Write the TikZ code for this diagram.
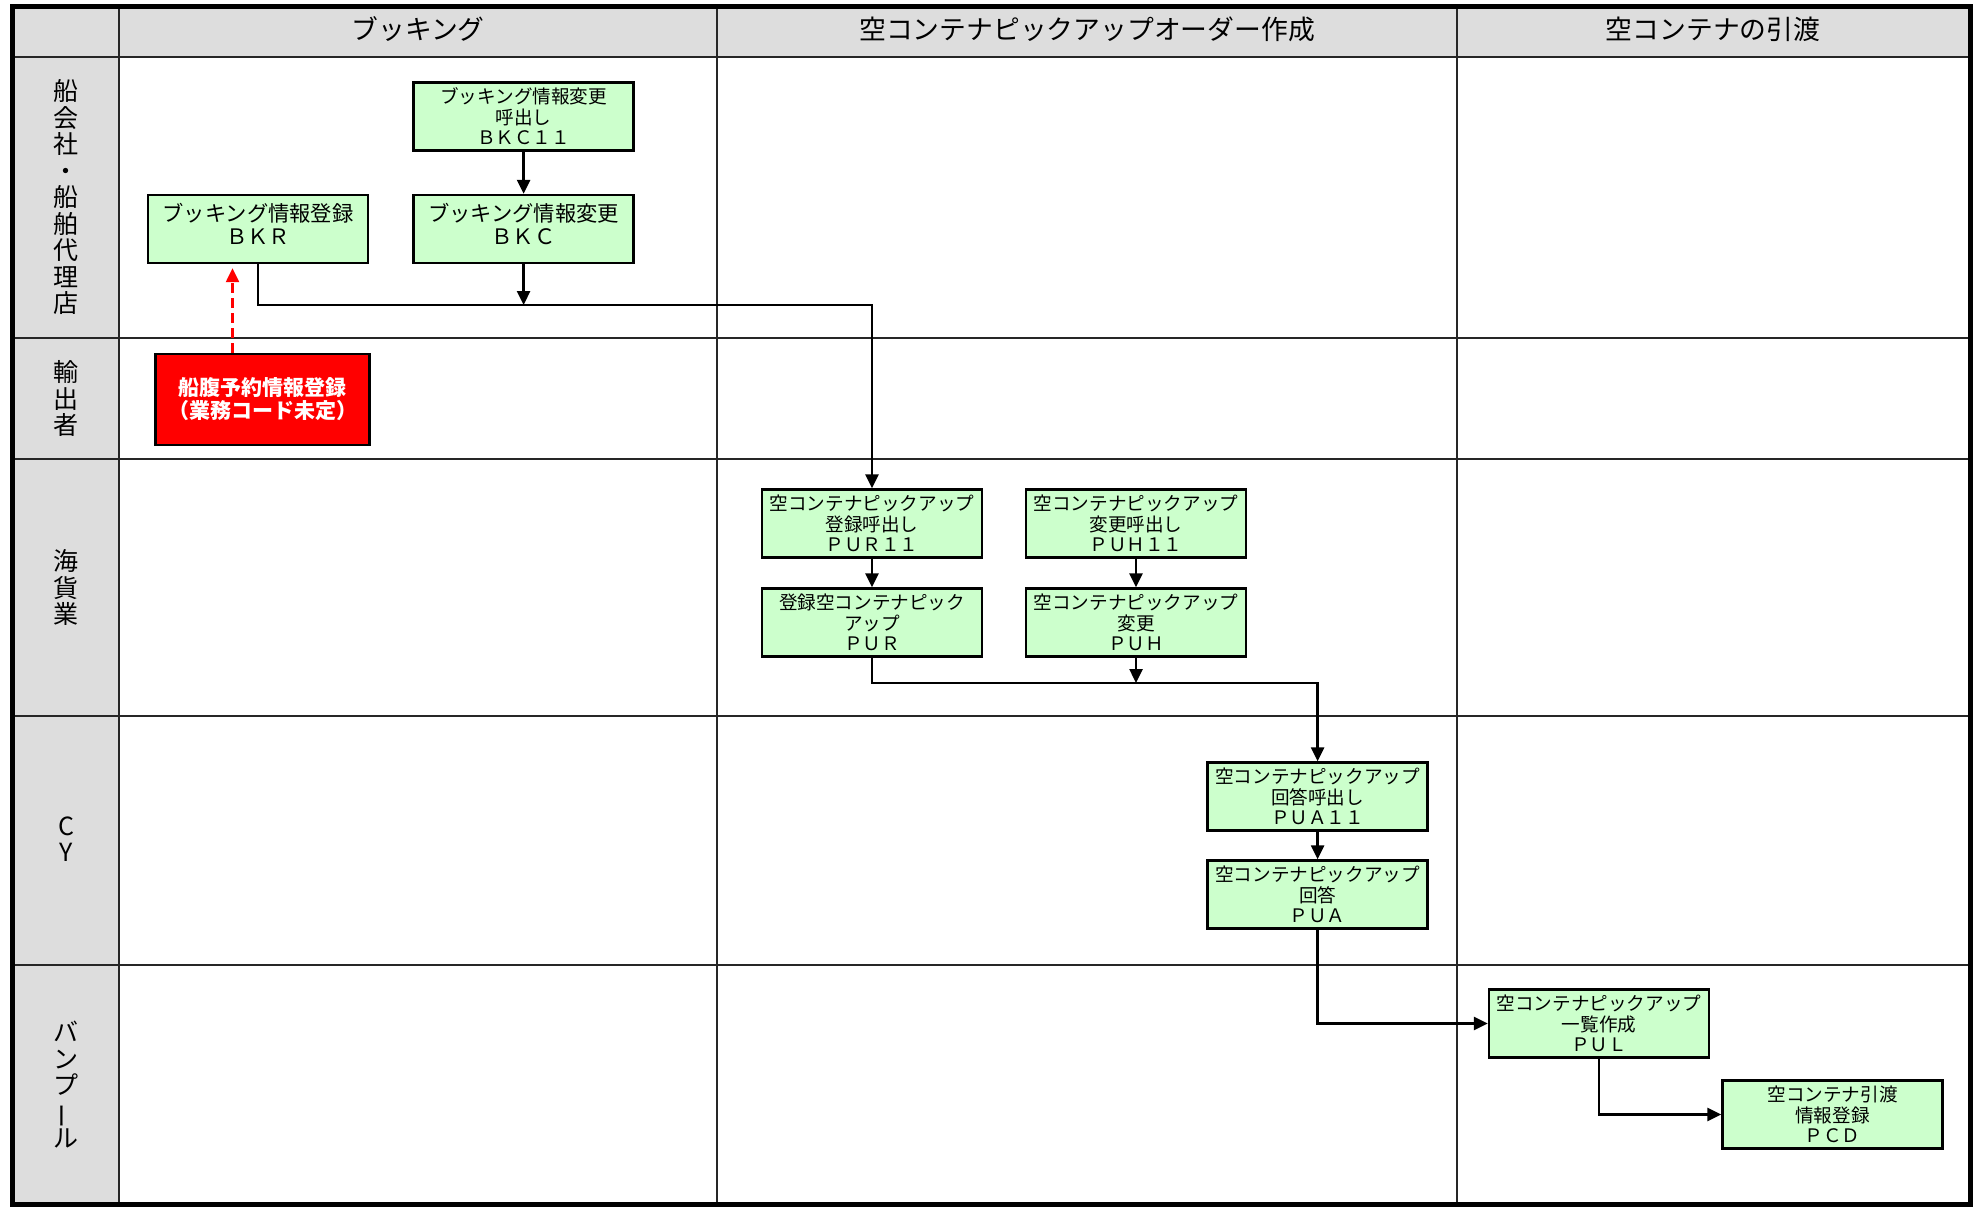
\documentclass[tikz,border=0pt]{standalone}
\usepackage{fontspec}
\usepackage{graphicx}
\setmainfont{Noto Sans CJK JP}
\usetikzlibrary{arrows.meta}
\definecolor{boxgreen}{HTML}{CCFFCC}
\definecolor{lanegray}{HTML}{DDDDDD}
\definecolor{alertred}{HTML}{FF0000}
\newcommand{\lowpad}{\rule[-10pt]{0pt}{10pt}}
\begin{document}
\begin{tikzpicture}[x=1pt,y=-1pt,
  gridline/.style={line width=2.8pt, draw=black!85},
  frame/.style={line width=5pt, draw=black},
  hdr/.style={font=\fontsize{26.8}{28}\selectfont, anchor=center},
  lanelabel/.style={font=\fontsize{25}{26.5}\selectfont, align=center, anchor=center, inner sep=0pt},
  proc/.style={draw=black, line width=2.4pt, fill=boxgreen, minimum width=220pt, minimum height=68pt, align=center, inner sep=0pt},
  three/.style={font=\fontsize{18.6}{20.5}\selectfont},
  two/.style={font=\fontsize{21.3}{23}\selectfont},
  alertbox/.style={draw=black, line width=2.6pt, fill=alertred, text=white, minimum width=214pt, minimum height=91pt, align=center, inner sep=0pt, font=\bfseries\fontsize{21}{23}\selectfont},
  flow/.style={line width=2.5pt, draw=black, -{Triangle[length=14pt,width=13pt]}},
  reddash/.style={line width=2.4pt, draw=alertred, dash pattern=on 10pt off 5pt, -{Triangle[length=14pt,width=13pt]}}]
\useasboundingbox (0,0) rectangle (1983,1208);
% backgrounds
\fill[white] (12.6,6) rectangle (1970,1204);
\fill[lanegray] (12.6,6) rectangle (1970,57);
\fill[lanegray] (12.6,57) rectangle (119,1204);
% grid
\foreach \yy in {57,338,459,716,965} \draw[gridline] (12.6,\yy) -- (1970,\yy);
\foreach \xx in {119,717,1457} \draw[gridline] (\xx,6) -- (\xx,1204);
\draw[frame] (12.6,6) rectangle (1970,1204);
% headers
\node[hdr] (h1) at (418,29) {ブッキング};
\node[hdr] (h2) at (1087,29) {空コンテナピックアップオーダー作成};
\node[hdr] (h3) at (1713,29) {空コンテナの引渡};
% lane labels
\node[lanelabel] (l1) at (66,197) {船\\会\\社\\・\\船\\舶\\代\\理\\店};
\node[lanelabel] (l2) at (66,398.5) {輸\\出\\者};
\node[lanelabel] (l3) at (66,587.5) {海\\貨\\業};
\node[lanelabel] (l4) at (66,839) {C\\Y};
\node[lanelabel] (l5) at (66,1085) {バ\\ン\\プ\\\rotatebox[origin=c]{90}{ー}\\ル};
% process boxes
\node[proc,three] (bkc11) at (523.6,116.3) {ブッキング情報変更\\呼出し\\ＢＫＣ１１};
\node[proc,two] (bkc) at (523.6,229) {ブッキング情報変更\\ＢＫＣ\lowpad};
\node[proc,two] (bkr) at (258,229) {ブッキング情報登録\\ＢＫＲ\lowpad};
\node[alertbox] (red) at (262.5,399.5) {船腹予約情報登録\\（業務コード未定）};
\node[proc,three] (pur11) at (872,523.5) {空コンテナピックアップ\\登録呼出し\\ＰＵＲ１１};
\node[proc,three] (pur) at (872,622.5) {登録空コンテナピック\\アップ\\ＰＵＲ};
\node[proc,three] (puh11) at (1136,523.5) {空コンテナピックアップ\\変更呼出し\\ＰＵＨ１１};
\node[proc,three] (puh) at (1136,622.5) {空コンテナピックアップ\\変更\\ＰＵＨ};
\node[proc,three] (pua11) at (1317.6,796.5) {空コンテナピックアップ\\回答呼出し\\ＰＵＡ１１};
\node[proc,three] (pua) at (1317.6,894.5) {空コンテナピックアップ\\回答\\ＰＵＡ};
\node[proc,three] (pul) at (1599,1023.5) {空コンテナピックアップ\\一覧作成\\ＰＵＬ};
\node[proc,three] (pcd) at (1832.5,1114.5) {空コンテナ引渡\\情報登録\\ＰＣＤ};
% connectors
\coordinate (j1) at (523.6,305);
\coordinate (j2) at (1136,683);
\coordinate (rx) at (232.5,0);
\draw[flow] (bkc11) -- (bkc);
\draw[flow] (bkc) -- (j1);
\draw[flow] (bkr.south) |- (j1) -| (pur11.north);
\draw[reddash, shorten >=4pt] (red.north -| rx) -- (bkr.south -| rx);
\draw[flow] (pur11) -- (pur);
\draw[flow] (puh11) -- (puh);
\draw[flow] (puh) -- (j2);
\draw[flow] (pur.south) |- (j2) -| (pua11.north);
\draw[flow] (pua11) -- (pua);
\draw[flow] (pua.south) |- (pul.west);
\draw[flow] (pul.south) |- (pcd.west);
\end{tikzpicture}
\end{document}
